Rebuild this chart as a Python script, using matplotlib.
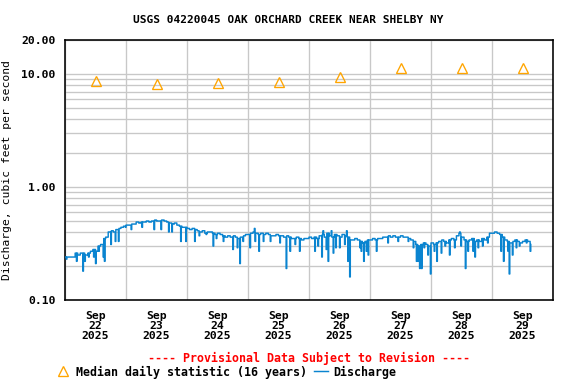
import numpy as np
import pandas as pd
import matplotlib
matplotlib.use('Agg')
import matplotlib.pyplot as plt
import matplotlib.dates as mdates
from matplotlib.ticker import FixedLocator, LogLocator, NullFormatter, FuncFormatter

plt.rcParams['font.family'] = 'DejaVu Sans Mono'
plt.rcParams['font.weight'] = 'bold'

TITLE = 'USGS 04220045 OAK ORCHARD CREEK NEAR SHELBY NY'
YLABEL = 'Discharge, cubic feet per second'
START = pd.Timestamp('2025-09-22 00:00')

# median daily statistic, one value per day (plotted at noon)
median_days = ['2025-09-22', '2025-09-23', '2025-09-24', '2025-09-25',
               '2025-09-26', '2025-09-27', '2025-09-28', '2025-09-29']
median_vals = [8.6, 8.1, 8.3, 8.5, 9.4, 11.3, 11.3, 11.4]

# discharge, hourly level (cfs) starting Sep 22 00:00
hourly_q = [
    # Sep 22
    0.24, 0.24, 0.24, 0.24, 0.26, 0.25, 0.26, 0.26, 0.25, 0.26, 0.27, 0.28,
    0.27, 0.30, 0.31, 0.35, 0.36, 0.40, 0.41, 0.40, 0.42, 0.43, 0.44, 0.45,
    # Sep 23
    0.46, 0.46, 0.47, 0.47, 0.49, 0.48, 0.49, 0.49, 0.50, 0.49, 0.50, 0.51,
    0.50, 0.50, 0.51, 0.50, 0.49, 0.48, 0.47, 0.48, 0.46, 0.45, 0.44, 0.44,
    # Sep 24
    0.43, 0.42, 0.43, 0.42, 0.41, 0.40, 0.41, 0.39, 0.40, 0.40, 0.39, 0.38,
    0.39, 0.38, 0.37, 0.36, 0.37, 0.36, 0.37, 0.36, 0.35, 0.36, 0.37, 0.38,
    # Sep 25
    0.38, 0.39, 0.40, 0.39, 0.38, 0.39, 0.38, 0.39, 0.38, 0.37, 0.37, 0.38,
    0.37, 0.37, 0.36, 0.37, 0.36, 0.35, 0.35, 0.36, 0.35, 0.34, 0.35, 0.35,
    # Sep 26
    0.36, 0.35, 0.36, 0.35, 0.37, 0.38, 0.36, 0.39, 0.37, 0.36, 0.38, 0.37,
    0.36, 0.38, 0.37, 0.36, 0.34, 0.34, 0.35, 0.34, 0.33, 0.32, 0.33, 0.34,
    # Sep 27
    0.34, 0.35, 0.34, 0.35, 0.35, 0.36, 0.36, 0.37, 0.36, 0.37, 0.36, 0.36,
    0.37, 0.36, 0.36, 0.35, 0.34, 0.33, 0.31, 0.30, 0.31, 0.32, 0.31, 0.30,
    # Sep 28
    0.32, 0.31, 0.32, 0.33, 0.34, 0.33, 0.32, 0.34, 0.35, 0.34, 0.37, 0.39,
    0.36, 0.34, 0.33, 0.34, 0.35, 0.33, 0.34, 0.33, 0.35, 0.34, 0.36, 0.39,
    # Sep 29
    0.39, 0.40, 0.39, 0.38, 0.36, 0.34, 0.33, 0.32, 0.33, 0.34, 0.33, 0.32,
    0.33, 0.34, 0.33, 0.31,
]

# single 15-minute readings that depart from the hourly level
spike_hours = [0.5, 4.5, 7.0, 7.75, 9.25, 11.25, 12.0, 13.25, 15.0, 15.5, 18.0,
               19.75, 21.0, 23.75, 26.0, 30.25, 35.0, 37.75, 40.75, 42.0, 45.5,
               47.5, 51.0, 52.75, 55.5, 58.25, 59.5, 62.25, 66.0, 67.75, 68.75,
               70.0, 72.75, 74.5, 74.75, 76.25, 78.0, 80.75, 84.5, 87.0, 88.5,
               90.5, 92.25, 98.25, 99.5, 101.0, 101.5, 102.75, 103.5, 104.75,
               105.5, 106.5, 108.0, 110.0, 110.75, 111.25, 112.0, 116.0, 116.5,
               117.5, 118.5, 119.25, 122.5, 127.0, 131.0, 135.0, 137.0, 138.25,
               138.75, 139.5, 140.25, 141.25, 142.75, 143.75, 145.25, 146.25,
               148.0, 149.5, 151.25, 153.25, 155.25, 155.75, 157.5, 158.5, 160.5,
               161.25, 162.5, 164.25, 166.25, 171.5, 172.5, 174.25, 174.75,
               176.0, 177.5, 178.75, 181.5, 183.0]
spike_vals = [0.23, 0.22, 0.18, 0.22, 0.24, 0.24, 0.21, 0.27, 0.24, 0.22, 0.31,
              0.33, 0.33, 0.44, 0.42, 0.44, 0.42, 0.42, 0.40, 0.40, 0.33,
              0.33, 0.33, 0.37, 0.38, 0.30, 0.35, 0.33, 0.28, 0.29, 0.21,
              0.33, 0.29, 0.43, 0.33, 0.27, 0.33, 0.33, 0.32, 0.19, 0.27,
              0.31, 0.27, 0.27, 0.30, 0.24, 0.41, 0.28, 0.22, 0.41,
              0.26, 0.29, 0.29, 0.31, 0.41, 0.22, 0.16, 0.29, 0.27,
              0.22, 0.27, 0.25, 0.27, 0.32, 0.33, 0.33, 0.29, 0.22,
              0.22, 0.19, 0.19, 0.29, 0.25, 0.17, 0.27, 0.22,
              0.26, 0.30, 0.25, 0.29, 0.40, 0.30, 0.19, 0.27, 0.27,
              0.24, 0.29, 0.30, 0.32, 0.27, 0.22, 0.27, 0.17,
              0.25, 0.29, 0.30, 0.32, 0.27]
END_HOUR = 183.25


def build_discharge():
    times = pd.date_range(START, START + pd.Timedelta(hours=END_HOUR), freq='15min')
    hrs = np.asarray((times - START) / pd.Timedelta(hours=1))
    vals = np.array(hourly_q)[np.minimum(hrs.astype(int), len(hourly_q) - 1)]
    for h, v in zip(spike_hours, spike_vals):
        vals[int(round(h * 4))] = v
    return times, vals


def main():
    fig = plt.figure(figsize=(6, 4), dpi=96)
    ax = fig.add_axes([65 / 576, 84 / 384, 488 / 576, 260 / 384])

    times, q = build_discharge()
    med_t = pd.to_datetime(median_days) + pd.Timedelta(hours=12)

    med, = ax.plot(med_t, median_vals, linestyle='none', marker='^', markersize=8,
                   markerfacecolor='none', markeredgecolor='#FFA500', markeredgewidth=1.0,
                   label='Median daily statistic (16 years)', zorder=4)
    dis, = ax.plot(times, q, color='#0a84d0', linewidth=1.1, drawstyle='steps-post',
                   label='Discharge', zorder=3)

    ax.set_yscale('log')
    ax.set_ylim(0.1, 20)
    ax.set_xlim(START, START + pd.Timedelta(days=8))

    ax.yaxis.set_major_locator(FixedLocator([0.1, 1.0, 10.0, 20.0]))
    ax.yaxis.set_major_formatter(FuncFormatter(lambda v, p: '%.2f' % v))
    ax.yaxis.set_minor_locator(LogLocator(base=10, subs=np.arange(2, 10)))
    ax.yaxis.set_minor_formatter(NullFormatter())

    ax.xaxis.set_major_locator(mdates.DayLocator())
    ax.xaxis.set_major_formatter(NullFormatter())
    ax.xaxis.set_minor_locator(mdates.HourLocator(byhour=[12]))
    ax.xaxis.set_minor_formatter(mdates.DateFormatter('%b\n%d\n%Y'))

    ax.tick_params(which='both', length=0, labelsize=8.5)
    ax.tick_params(axis='y', pad=7)
    ax.tick_params(axis='x', which='minor', pad=8)
    for lbl in ax.xaxis.get_minorticklabels():
        lbl.set_linespacing(1.05)

    ax.grid(True, which='major', color='#c8c8c8', linewidth=1.0)
    ax.yaxis.grid(True, which='minor', color='#c8c8c8', linewidth=1.0)
    ax.set_axisbelow(True)
    for sp in ax.spines.values():
        sp.set_linewidth(1.2)

    ax.set_ylabel(YLABEL, fontsize=8.5, labelpad=8)
    ax.yaxis.set_label_coords(-53 / 488, 0.5)
    fig.text(0.5, 1 - 20 / 384, TITLE, ha='center', va='center', fontsize=8.3)
    fig.text(309 / 576, 1 - 358 / 384, '---- Provisional Data Subject to Revision ----',
             ha='center', va='center', fontsize=8.7, color='red')

    fig.legend(handles=[med, dis], loc='center left', ncol=2, frameon=False,
               bbox_to_anchor=(56 / 576, 1 - 372 / 384), fontsize=8.7,
               handlelength=1.2, handletextpad=0.5, columnspacing=0.6,
               borderaxespad=0, borderpad=0)

    fig.savefig('out.png', dpi=96)


if __name__ == '__main__':
    main()
